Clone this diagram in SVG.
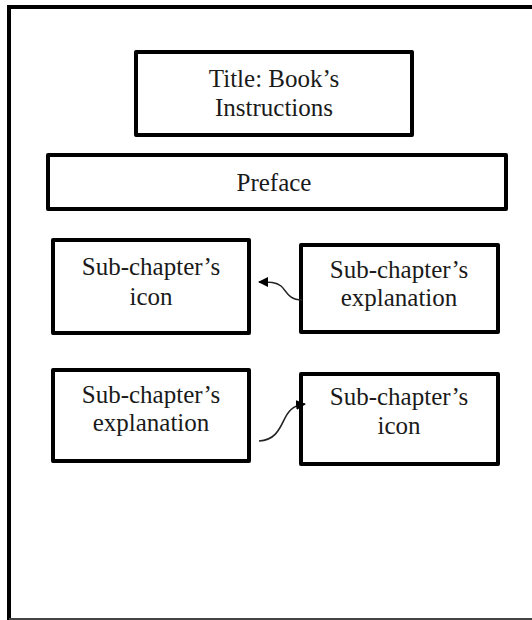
<svg xmlns="http://www.w3.org/2000/svg" width="532" height="620" viewBox="0 0 532 620">
<style>
  .box { fill: #ffffff; stroke: #000000; stroke-width: 4; stroke-linejoin: round; }
  .lbl { font-family: "Liberation Serif", "Times New Roman", serif; font-size: 25px; fill: #1a1a1a; text-anchor: middle; }
  .conn { fill: none; stroke: #222222; stroke-width: 1.6; }
</style>
<defs>
  <marker id="arrow" viewBox="0 0 10 10" refX="9" refY="5" markerWidth="10" markerHeight="10" markerUnits="userSpaceOnUse" orient="auto">
    <path d="M0,0 L10,5 L0,10 z" fill="#000000"/>
  </marker>
</defs>
<rect width="532" height="620" fill="#ffffff"/>
<g id="frame">
  <path d="M9,620 V7 H532" fill="none" stroke="#000000" stroke-width="4"/>
  <line x1="9" y1="619" x2="532" y2="619" stroke="#444444" stroke-width="2"/>
</g>
<g id="title">
  <rect class="box" x="136" y="52" width="276" height="83"/>
  <text class="lbl" x="274" y="87">Title: Book’s</text>
  <text class="lbl" x="274" y="116">Instructions</text>
</g>
<g id="preface">
  <rect class="box" x="48" y="155" width="458" height="54"/>
  <text class="lbl" x="274" y="191">Preface</text>
</g>
<g id="icon1">
  <rect class="box" x="53" y="240" width="196" height="93"/>
  <text class="lbl" x="151" y="275">Sub-chapter’s</text>
  <text class="lbl" x="151" y="305">icon</text>
</g>
<g id="explanation1">
  <rect class="box" x="301" y="245" width="197" height="87"/>
  <text class="lbl" x="399" y="278">Sub-chapter’s</text>
  <text class="lbl" x="399" y="306">explanation</text>
</g>
<g id="explanation2">
  <rect class="box" x="53" y="370" width="196" height="91"/>
  <text class="lbl" x="151" y="403">Sub-chapter’s</text>
  <text class="lbl" x="151" y="431">explanation</text>
</g>
<g id="icon2">
  <rect class="box" x="301" y="374" width="197" height="90"/>
  <text class="lbl" x="399" y="405">Sub-chapter’s</text>
  <text class="lbl" x="399" y="434">icon</text>
</g>
<g id="connectors">
  <path class="conn" d="M302,300 C288,300 286,290 281,286 C276,282 270,282 259,282" marker-end="url(#arrow)"/>
  <path class="conn" d="M259,441 C276,440 280,428 285,418 C290,408 296,405 305,404" marker-end="url(#arrow)"/>
</g>
</svg>
